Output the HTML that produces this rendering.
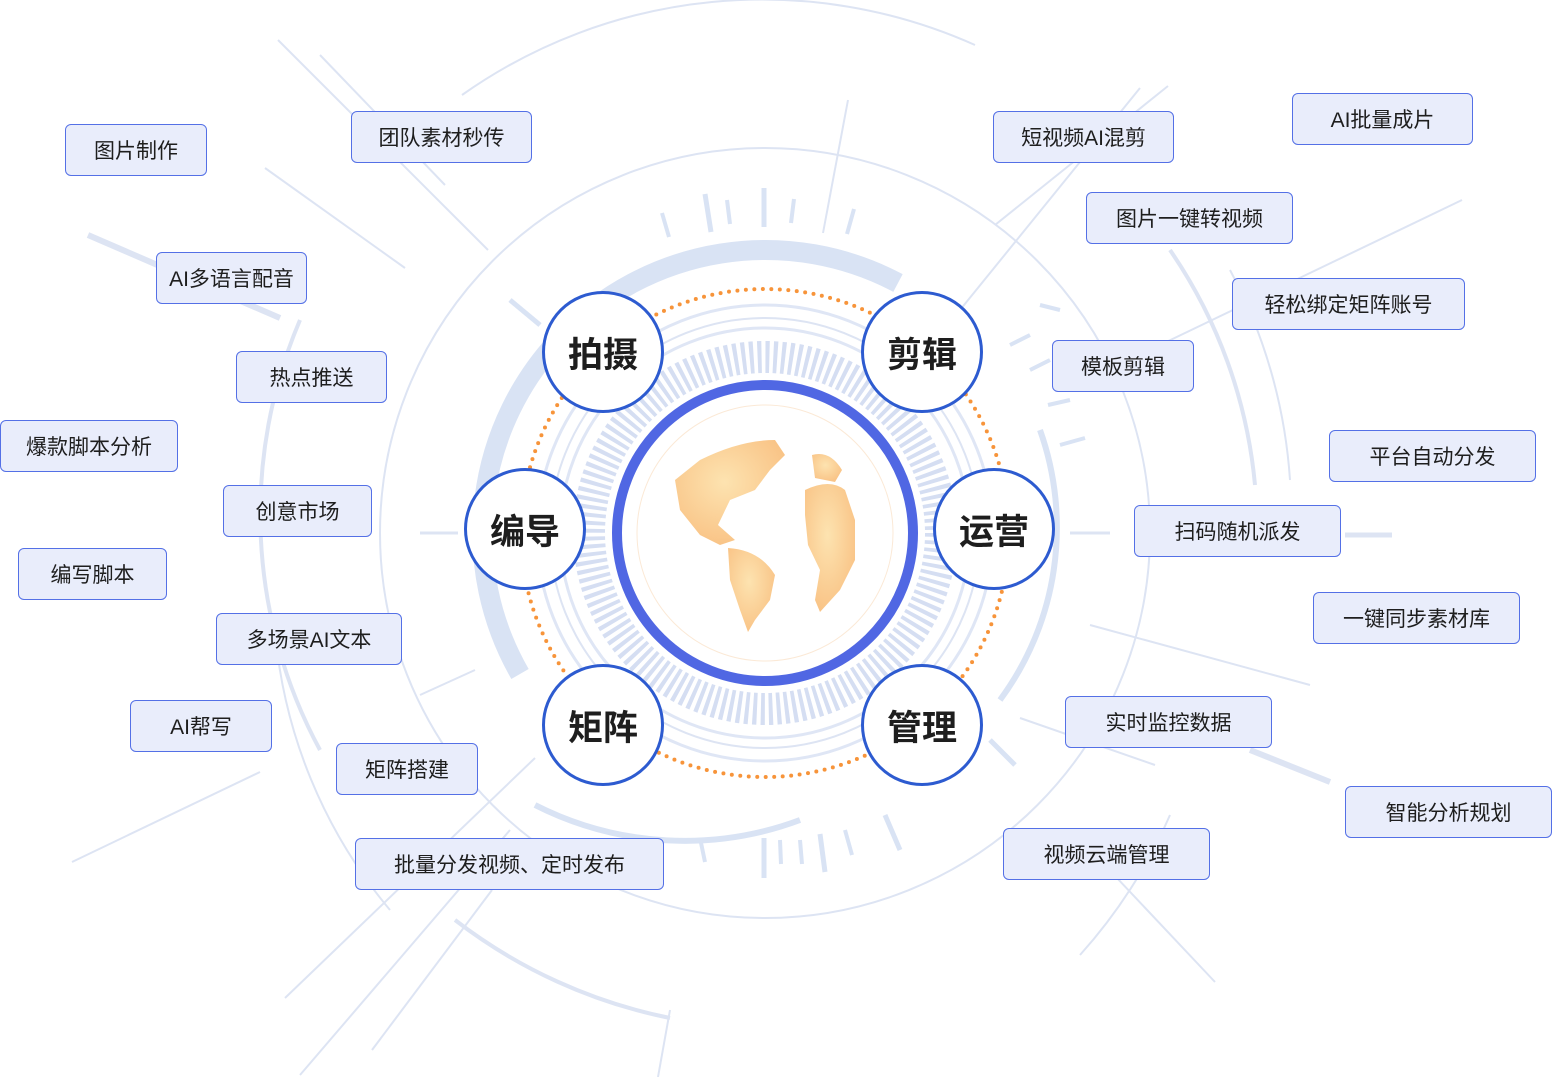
<!DOCTYPE html>
<html><head><meta charset="utf-8"><style>
body{margin:0;width:1553px;height:1077px;background:#fff;position:relative;overflow:hidden;font-family:"Liberation Sans","Noto Sans CJK SC",sans-serif}
.b{position:absolute;box-sizing:border-box;background:#e9edfb;border:1.5px solid #5470e6;border-radius:6px;display:flex;align-items:center;justify-content:center;font-size:21px;color:#1e1e1e}
.n{position:absolute;width:122px;height:122px;box-sizing:border-box;border:3px solid #2d5bd0;border-radius:50%;background:#fff;display:flex;align-items:center;justify-content:center;font-size:35px;font-weight:bold;color:#1e1e1e}
svg{position:absolute;left:0;top:0}
</style></head><body>
<svg width="1553" height="1077" viewBox="0 0 1553 1077">
<g fill="none" stroke="#dde4f3" stroke-width="2">
<circle cx="765" cy="533" r="385"/>
<circle cx="765" cy="533" r="215"/>
<path d="M462,95 A520,520 0 0,1 975,45"/>
<path d="M300,320 A495,495 0 0,0 320,750" stroke-width="4"/>
<path d="M1170,250 A495,495 0 0,1 1255,485" stroke-width="4"/>
<path d="M1230,270 A520,520 0 0,1 1290,480"/>
<path d="M275,630 A500,500 0 0,0 390,910"/>
<path d="M455,920 A520,520 0 0,0 670,1018" stroke-width="4"/>
<path d="M1080,955 A520,520 0 0,0 1170,815"/>
<line x1="278" y1="40" x2="488" y2="250"/><line x1="320" y1="55" x2="445" y2="185"/>
<line x1="265" y1="168" x2="405" y2="268"/><line x1="88" y1="235" x2="280" y2="318" stroke-width="6"/>
<line x1="1168" y1="86" x2="995" y2="225"/><line x1="1140" y1="88" x2="960" y2="310"/>
<line x1="1462" y1="200" x2="1160" y2="345"/>
<line x1="1090" y1="625" x2="1310" y2="685"/><line x1="1020" y1="718" x2="1155" y2="765"/>
<line x1="1250" y1="750" x2="1330" y2="782" stroke-width="6"/>
<line x1="1100" y1="860" x2="1215" y2="982"/>
<line x1="72" y1="862" x2="260" y2="772"/><line x1="420" y1="695" x2="475" y2="670"/>
<line x1="285" y1="998" x2="535" y2="758"/><line x1="300" y1="1075" x2="510" y2="830"/>
<line x1="372" y1="1050" x2="492" y2="890"/><line x1="658" y1="1077" x2="670" y2="1010"/>
<line x1="420" y1="533" x2="458" y2="533" stroke-width="3"/><line x1="1070" y1="533" x2="1110" y2="533" stroke-width="3"/>
<line x1="1345" y1="535" x2="1392" y2="535" stroke-width="5"/>
<line x1="848" y1="100" x2="823" y2="233"/>
</g>
<g stroke="#d9e3f4" stroke-width="4" fill="none">
<line x1="662" y1="213" x2="669" y2="237"/><line x1="705" y1="194" x2="711" y2="232" stroke-width="5"/>
<line x1="727" y1="200" x2="730" y2="224"/><line x1="764" y1="188" x2="764" y2="227" stroke-width="5"/>
<line x1="794" y1="199" x2="791" y2="223"/><line x1="854" y1="209" x2="847" y2="234"/>
<line x1="700" y1="838" x2="705" y2="862"/><line x1="764" y1="838" x2="764" y2="878" stroke-width="5"/>
<line x1="780" y1="840" x2="781" y2="864"/><line x1="800" y1="840" x2="802" y2="864"/>
<line x1="820" y1="834" x2="825" y2="872" stroke-width="5"/><line x1="845" y1="830" x2="852" y2="855"/>
<line x1="885" y1="815" x2="900" y2="850" stroke-width="5"/>
<line x1="1040" y1="305" x2="1060" y2="310"/><line x1="1010" y1="345" x2="1030" y2="335"/>
<line x1="1030" y1="370" x2="1050" y2="360"/><line x1="1048" y1="405" x2="1070" y2="400"/>
<line x1="1060" y1="445" x2="1085" y2="438"/>
<line x1="510" y1="300" x2="540" y2="325" stroke-width="5"/><line x1="990" y1="740" x2="1015" y2="765" stroke-width="5"/>
<path d="M520,674 A283,283 0 0,1 898,283" stroke-width="20"/>
<path d="M1040,430 A290,290 0 0,1 1000,700" stroke-width="6"/>
<path d="M535,805 A330,330 0 0,0 800,820" stroke-width="6"/>
</g>
<circle cx="765" cy="533" r="228" fill="none" stroke="#dfe6f5" stroke-width="3"/>
<circle cx="765" cy="533" r="205" fill="none" stroke="#dfe6f5" stroke-width="3"/>
<circle cx="765" cy="533" r="176" fill="none" stroke="#d5def2" stroke-width="32" stroke-dasharray="4 3.9"/>
<circle cx="765" cy="533" r="244" fill="none" stroke="#f7943a" stroke-width="4" stroke-linecap="round" stroke-dasharray="0 8.5"/>
<defs><radialGradient id="g" cx="0.45" cy="0.4" r="0.6"><stop offset="0" stop-color="#fde3b0"/><stop offset="1" stop-color="#f9c487"/></radialGradient></defs>
<circle cx="765" cy="533" r="148" fill="#fff" stroke="#5067e3" stroke-width="10"/>
<circle cx="765" cy="533" r="128" fill="#fff" stroke="#fbe9d6" stroke-width="1"/>
<g fill="url(#g)">
<path d="M700,460 Q740,440 775,440 L785,455 L770,470 L755,490 L730,500 L718,525 L735,540 L720,545 L700,535 L680,510 L675,480 Z"/>
<path d="M728,548 Q760,550 775,575 L770,600 L755,620 L748,632 L740,610 L730,580 Z"/>
<path d="M805,490 Q830,478 845,490 L855,520 L855,560 L840,590 L820,612 L815,600 L820,570 L808,545 L805,515 Z"/>
<path d="M812,455 Q830,450 842,470 L835,482 L815,478 Z"/>
</g>
</svg>
<div class="n" style="left:542px;top:291px">拍摄</div>
<div class="n" style="left:861px;top:291px">剪辑</div>
<div class="n" style="left:464px;top:468px">编导</div>
<div class="n" style="left:933px;top:468px">运营</div>
<div class="n" style="left:542px;top:664px">矩阵</div>
<div class="n" style="left:861px;top:664px">管理</div>
<div class="b" style="left:65px;top:124px;width:142px;height:52px">图片制作</div>
<div class="b" style="left:351px;top:111px;width:181px;height:52px">团队素材秒传</div>
<div class="b" style="left:156px;top:252px;width:151px;height:52px">AI多语言配音</div>
<div class="b" style="left:236px;top:351px;width:151px;height:52px">热点推送</div>
<div class="b" style="left:0px;top:420px;width:178px;height:52px">爆款脚本分析</div>
<div class="b" style="left:223px;top:485px;width:149px;height:52px">创意市场</div>
<div class="b" style="left:18px;top:548px;width:149px;height:52px">编写脚本</div>
<div class="b" style="left:216px;top:613px;width:186px;height:52px">多场景AI文本</div>
<div class="b" style="left:130px;top:700px;width:142px;height:52px">AI帮写</div>
<div class="b" style="left:336px;top:743px;width:142px;height:52px">矩阵搭建</div>
<div class="b" style="left:355px;top:838px;width:309px;height:52px">批量分发视频、定时发布</div>
<div class="b" style="left:993px;top:111px;width:181px;height:52px">短视频AI混剪</div>
<div class="b" style="left:1292px;top:93px;width:181px;height:52px">AI批量成片</div>
<div class="b" style="left:1086px;top:192px;width:207px;height:52px">图片一键转视频</div>
<div class="b" style="left:1232px;top:278px;width:233px;height:52px">轻松绑定矩阵账号</div>
<div class="b" style="left:1052px;top:340px;width:142px;height:52px">模板剪辑</div>
<div class="b" style="left:1329px;top:430px;width:207px;height:52px">平台自动分发</div>
<div class="b" style="left:1134px;top:505px;width:207px;height:52px">扫码随机派发</div>
<div class="b" style="left:1313px;top:592px;width:207px;height:52px">一键同步素材库</div>
<div class="b" style="left:1065px;top:696px;width:207px;height:52px">实时监控数据</div>
<div class="b" style="left:1345px;top:786px;width:207px;height:52px">智能分析规划</div>
<div class="b" style="left:1003px;top:828px;width:207px;height:52px">视频云端管理</div>
</body></html>
